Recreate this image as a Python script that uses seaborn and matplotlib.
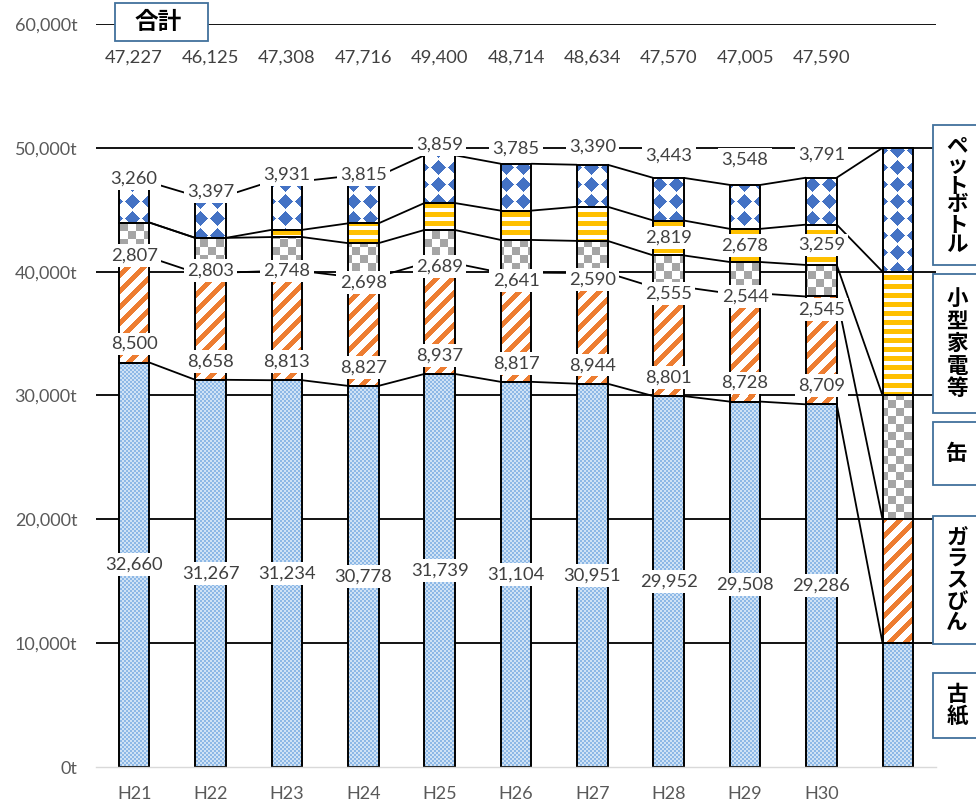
import numpy as np
import pandas as pd
import matplotlib
matplotlib.use("Agg")
import matplotlib.pyplot as plt
import matplotlib.colors as mcolors
import seaborn as sns
from matplotlib.patches import Rectangle
from matplotlib.path import Path
from matplotlib.transforms import Affine2D

# ---------------- data ----------------
years = ["H21", "H22", "H23", "H24", "H25", "H26", "H27", "H28", "H29", "H30"]
paper = [32660, 31267, 31234, 30778, 31739, 31104, 30951, 29952, 29508, 29286]
glass = [8500, 8658, 8813, 8827, 8937, 8817, 8944, 8801, 8728, 8709]
cans = [2807, 2803, 2748, 2698, 2689, 2641, 2590, 2555, 2544, 2545]
small = [0, 0, 582, 1598, 2176, 2367, 2759, 2819, 2678, 3259]
pet = [3260, 3397, 3931, 3815, 3859, 3785, 3390, 3443, 3548, 3791]
totals = [47227, 46125, 47308, 47716, 49400, 48714, 48634, 47570, 47005, 47590]
series_names = ["古紙", "ガラスびん", "缶", "小型家電等", "ペットボトル"]
key_values = [10000, 10000, 10000, 10000, 10000]   # the legend column at the right
small_labelled = ["H28", "H29", "H30"]
y_ticks = [0, 10000, 20000, 30000, 40000, 50000, 60000]
total_title = "合計"

# ---------------- layout (label nudges, in data units) ----------------
pet_label_dy = [290, 340, 530, 120, 860, 1220, 1470, 1800, 2050, 1860]
can_label_dy = [130, 160, 0, -490, -270, -650, -540, -520, -250, -1060]
glass_label_dy = 1500
total_row_y = 57300
# right-hand boxes, pixel rows from the top of the figure (top, bottom)
key_box_px = {"ペットボトル": (125, 265), "小型家電等": (274, 413), "缶": (422, 485),
              "ガラスびん": (516, 644), "古紙": (673, 738)}

sns.set_style("white")
plt.rcParams["font.family"] = ["Lato", "Noto Sans CJK JP", "DejaVu Sans"]
JP = ["Noto Sans CJK JP", "DejaVu Sans"]

FW, FH = 976, 805
L, R, B, T = 96, 936, 38, 781
fig = plt.figure(figsize=(FW / 100, FH / 100), dpi=100)
ax = fig.add_axes([L / FW, B / FH, (R - L) / FW, (T - B) / FH])

cats = years + [""]
series_vals = [paper, glass, cans, small, pet]
bar_w = 0.4

# ---------------- pattern images ----------------
Hp, Wp = T - B, R - L
rr, cc = np.mgrid[0:Hp, 0:Wp]


def rgb(h):
    return np.array(mcolors.to_rgb(h))


def make(mask, fg, bg):
    return np.where(mask[..., None], rgb(fg), rgb(bg))


p = 17
u = ((cc + 6) % p) - p / 2 + 0.5
v = (rr % p) - p / 2 + 0.5
patterns = [
    make(((cc // 2 + rr // 2) % 2) == 0, "#8DB8E6", "#CFE2F5"),          # 古紙
    make(((cc + rr) % 16) < 7, "#ED7D31", "#FFFFFF"),                    # ガラスびん
    make(((cc // 8 + rr // 8) % 2) == 0, "#A5A5A5", "#FFFFFF"),          # 缶
    make((rr % 9) < 5, "#FFC000", "#FFFFFF"),                            # 小型家電等
    make((np.abs(u) + np.abs(v)) < 0.44 * p, "#4472C4", "#FFFFFF"),      # ペットボトル
]

bottom = np.zeros(len(cats))
cums = []
for k, vals in enumerate(series_vals):
    full = np.array(list(vals) + [key_values[k]], dtype=float)
    df = pd.DataFrame({"cat": cats, "val": full})
    n0 = len(ax.patches)
    sns.barplot(data=df, x="cat", y="val", order=cats, bottom=bottom.copy(),
                width=bar_w, errorbar=None, color="white", facecolor="none",
                edgecolor="black", linewidth=1.4, ax=ax, zorder=2)
    new = ax.patches[n0:]
    rects = []
    for pt in new:
        if pt.get_height() > 0:
            rects.append(Path.unit_rectangle().transformed(
                Affine2D().scale(pt.get_width(), pt.get_height()).translate(pt.get_x(), pt.get_y())))
    if rects:
        im = ax.imshow(patterns[k], extent=(-0.5, 10.5, 0, 60000), origin="upper",
                       interpolation="nearest", aspect="auto", zorder=1.5)
        im.set_clip_path(Path.make_compound_path(*rects), ax.transData)
    bottom = bottom + full
    cums.append(bottom.copy())

# series lines between neighbouring bars
for cum in cums:
    for i in range(len(cats) - 1):
        ax.plot([i + bar_w / 2, i + 1 - bar_w / 2], [cum[i], cum[i + 1]],
                color="black", lw=1.3, zorder=2.5, solid_capstyle="butt")

ax.set_xlim(-0.5, 10.5)
ax.set_ylim(0, 60000)
ax.set_yticks(y_ticks)
ax.set_yticklabels([f"{t:,}t" for t in y_ticks])
ax.set_xlabel("")
ax.set_ylabel("")
ax.hlines(y_ticks[1:], -0.5, 10.5, colors="black", lw=1.3, zorder=0.5)
for s in ["top", "right", "left"]:
    ax.spines[s].set_visible(False)
ax.spines["bottom"].set_color("#D9D9D9")
ax.spines["bottom"].set_linewidth(1.0)
ax.tick_params(axis="both", length=0, labelsize=13, labelcolor="#595959")
ax.tick_params(axis="y", pad=13.5)
ax.tick_params(axis="x", pad=13.5)

# ---------------- data labels ----------------
FS = 13.2
lab_kw = dict(ha="center", va="center", fontsize=FS, color="#404040", zorder=5,
              bbox=dict(boxstyle="square,pad=0.18", fc="white", ec="none"))
c1, c2, c3, c4, c5 = cums
for i, yr in enumerate(years):
    ax.text(i, paper[i] / 2, f"{paper[i]:,}", **lab_kw)
    ax.text(i, c1[i] + glass_label_dy, f"{glass[i]:,}", **lab_kw)
    ax.text(i, c2[i] + can_label_dy[i], f"{cans[i]:,}", **lab_kw)
    if yr in small_labelled:
        ax.text(i, c3[i] + small[i] / 2, f"{small[i]:,}", **lab_kw)
    ax.text(i, c5[i] + pet_label_dy[i], f"{pet[i]:,}", **lab_kw)
    ax.text(i, total_row_y, f"{totals[i]:,}", ha="center", va="center",
            fontsize=FS, color="#404040", zorder=5)

# ---------------- 合計 box ----------------
box_col = "#41719C"
fig.add_artist(Rectangle((115 / FW, 1 - 41 / FH), 93 / FW, 38 / FH, transform=fig.transFigure,
                         fc="white", ec=box_col, lw=1.3, zorder=5))
fig.text(158 / FW, 1 - 22 / FH, total_title, ha="center", va="center", fontsize=17,
         fontweight="bold", family=JP, color="black", zorder=6)

# ---------------- right-hand key boxes ----------------
for name in series_names:
    top, bot = key_box_px[name]
    fig.add_artist(Rectangle((933 / FW, 1 - bot / FH), 60 / FW, (bot - top) / FH,
                             transform=fig.transFigure, fc="white", ec=box_col, lw=1.3,
                             zorder=5, clip_on=False))
    n = len(name)
    pitch = min(22.5, (bot - top - 22) / n)
    cy = (top + bot) / 2
    for j, ch in enumerate(name):
        py = cy + (j - (n - 1) / 2) * pitch
        fig.text(957 / FW, 1 - py / FH, ch, ha="center", va="center", fontsize=15.5,
                 fontweight="bold", family=JP, color="black", zorder=6)

fig.savefig("out.png", dpi=100)
